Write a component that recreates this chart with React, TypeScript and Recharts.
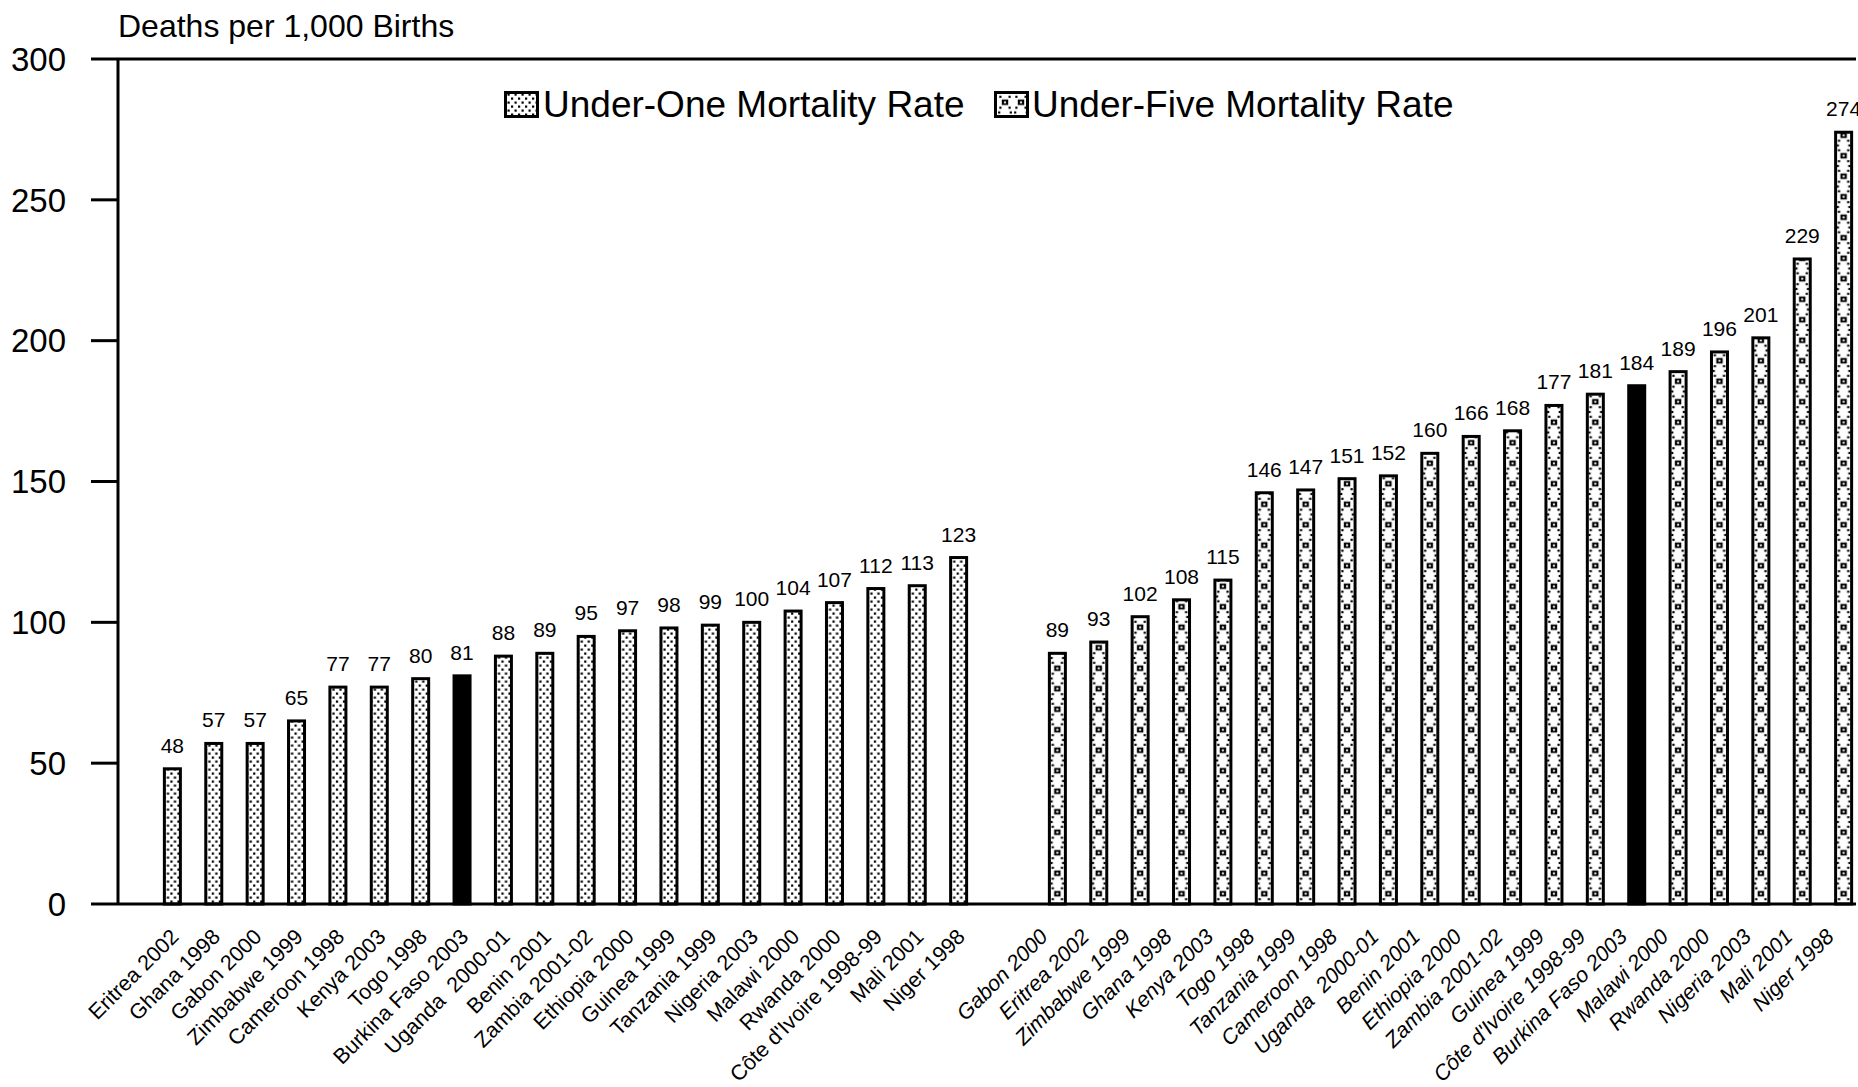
import React from 'react';
import { BarChart, Bar, XAxis, YAxis, ReferenceLine, LabelList, Legend, Label } from 'recharts';

const under1Labels = ['Eritrea 2002', 'Ghana 1998', 'Gabon 2000', 'Zimbabwe 1999', 'Cameroon 1998', 'Kenya 2003', 'Togo 1998', 'Burkina Faso 2003', 'Uganda  2000-01', 'Benin 2001', 'Zambia 2001-02', 'Ethiopia 2000', 'Guinea 1999', 'Tanzania 1999', 'Nigeria 2003', 'Malawi 2000', 'Rwanda 2000', "Côte d'Ivoire 1998-99", 'Mali 2001', 'Niger 1998'];
const under1Values = [48, 57, 57, 65, 77, 77, 80, 81, 88, 89, 95, 97, 98, 99, 100, 104, 107, 112, 113, 123];

const under5Labels = ['Gabon 2000', 'Eritrea 2002', 'Zimbabwe 1999', 'Ghana 1998', 'Kenya 2003', 'Togo 1998', 'Tanzania 1999', 'Cameroon 1998', 'Uganda  2000-01', 'Benin 2001', 'Ethiopia 2000', 'Zambia 2001-02', 'Guinea 1999', "Côte d'Ivoire 1998-99", 'Burkina Faso 2003', 'Malawi 2000', 'Rwanda 2000', 'Nigeria 2003', 'Mali 2001', 'Niger 1998'];
const under5Values = [89, 93, 102, 108, 115, 146, 147, 151, 152, 160, 166, 168, 177, 181, 184, 189, 196, 201, 229, 274];

const yTicks = [0, 50, 100, 150, 200, 250, 300];
const highlightName = 'Burkina Faso 2003';

const FONT = '"Liberation Sans", Arial, Helvetica, sans-serif';

type Row = { name: string; group: number; u1?: number; u5?: number };
const chartData: Row[] = [
  { name: '', group: 0 },
  ...under1Labels.map((n, i) => ({ name: n, group: 1, u1: under1Values[i] })),
  { name: '', group: 0 },
  ...under5Labels.map((n, i) => ({ name: n, group: 2, u5: under5Values[i] })),
];

function OnePattern({ id, x, y }: { id: string; x: number; y: number }) {
  return (
    <pattern id={id} patternUnits="userSpaceOnUse" x={x} y={y} width={7} height={8}>
      <rect width={7} height={8} fill="#fff" />
      <rect x={0.5} y={0.5} width={2.2} height={2.2} fill="#000" />
      <rect x={4} y={4.5} width={2.2} height={2.2} fill="#000" />
    </pattern>
  );
}

function FivePattern({ id, x, y }: { id: string; x: number; y: number }) {
  const dots = [
    [2.2, 0], [13.8, 0], [3.4, 4.8], [12.6, 4.8], [3.4, 15.7], [12.6, 15.7], [2.2, 20.5], [13.8, 20.5],
  ];
  return (
    <pattern id={id} patternUnits="userSpaceOnUse" x={x} y={y} width={16} height={20.5}>
      <rect width={16} height={20.5} fill="#fff" />
      <rect x={4.8} y={7.5} width={6.4} height={5.5} fill="#000" />
      <rect x={6.9} y={9.4} width={2.2} height={1.8} fill="#fff" />
      {dots.map(([cx, cy], i) => (
        <rect key={i} x={cx - 1.1} y={cy - 1.1} width={2.2} height={2.2} fill="#000" />
      ))}
    </pattern>
  );
}

function makeShape(kind: 'one' | 'five') {
  return (props: any) => {
    const { x, y, width, height, payload, index } = props;
    if (!height || height <= 0) return null;
    const hl = payload && payload.name === highlightName;
    const id = `pat-${kind}-${index}`;
    return (
      <g>
        {!hl && (
          <defs>
            {kind === 'one' ? (
              <OnePattern id={id} x={x + 2} y={y + height} />
            ) : (
              <FivePattern id={id} x={x} y={y + height} />
            )}
          </defs>
        )}
        <rect x={x} y={y} width={width} height={height} fill={hl ? '#000' : `url(#${id})`} stroke="#000" strokeWidth={3} />
      </g>
    );
  };
}

const OneShape = makeShape('one');
const FiveShape = makeShape('five');

function ValueLabel(props: any) {
  const { x, y, width, value } = props;
  if (value === undefined || value === null) return null;
  return (
    <text x={Number(x) + Number(width) / 2} y={Number(y) - 16} textAnchor="middle" fontSize={21} fontFamily={FONT} fill="#000">
      {value}
    </text>
  );
}

function XTick(props: any) {
  const { x, y, payload, index } = props;
  const row = chartData[index];
  if (!row || !row.name) return null;
  return (
    <text
      x={0}
      y={0}
      transform={`translate(${x},${y}) rotate(-45)`}
      textAnchor="end"
      fontSize={21.5}
      fontFamily={FONT}
      fontStyle={row.group === 2 ? 'italic' : 'normal'}
      fill="#000"
      style={{ whiteSpace: 'pre' }}
    >
      {payload.value}
    </text>
  );
}

function LegendContent() {
  return (
    <svg width={1858} height={140} style={{ display: 'block' }}>
      <defs>
        <OnePattern id="leg-one" x={507} y={93} />
        <FivePattern id="leg-five" x={997} y={92} />
      </defs>
      <rect x={505.5} y={92.5} width={32} height={24} fill="url(#leg-one)" stroke="#000" strokeWidth={3} />
      <text x={543} y={117} fontSize={37} fontFamily={FONT} fill="#000">Under-One Mortality Rate</text>
      <rect x={995.5} y={92.5} width={32} height={24} fill="url(#leg-five)" stroke="#000" strokeWidth={3} />
      <text x={1032} y={117} fontSize={37} fontFamily={FONT} fill="#000">Under-Five Mortality Rate</text>
    </svg>
  );
}

export default function App() {
  return (
    <div style={{ position: 'absolute', left: 0, top: 0, width: 1858, height: 1087, background: '#fff', overflow: 'hidden' }}>
      <BarChart
        width={1858}
        height={1087}
        data={chartData}
        margin={{ top: 59, right: 2, bottom: 0, left: 0 }}
        barGap={0}
        barSize={16}
      >
        <XAxis
          dataKey="name"
          interval={0}
          height={183}
          tickSize={0}
          tickMargin={34}
          tickLine={false}
          axisLine={{ stroke: '#000', strokeWidth: 3 }}
          tick={<XTick />}
        />
        <YAxis
          yAxisId="left"
          domain={[0, 300]}
          ticks={yTicks}
          width={118}
          tickSize={27}
          tickMargin={25}
          tickLine={{ stroke: '#000', strokeWidth: 3 }}
          axisLine={{ stroke: '#000', strokeWidth: 3 }}
          tick={{ fill: '#000', fontSize: 33, fontFamily: FONT }}
        >
          <Label
            content={() => (
              <text x={118} y={37} fontSize={32} fontFamily={FONT} fill="#000">
                Deaths per 1,000 Births
              </text>
            )}
          />
        </YAxis>
        <YAxis
          yAxisId="right"
          orientation="right"
          domain={[0, 300]}
          width={0}
          tick={false}
          tickLine={false}
          axisLine={{ stroke: '#000', strokeWidth: 3 }}
        />
        <ReferenceLine yAxisId="left" y={300} stroke="#000" strokeWidth={3} />
        <Legend
          layout="horizontal"
          verticalAlign="middle"
          align="center"
          wrapperStyle={{ top: 0, left: 0, width: 1858, height: 140 }}
          content={<LegendContent />}
        />
        <Bar yAxisId="left" dataKey="u1" name="Under-One Mortality Rate" isAnimationActive={false} shape={OneShape}>
          <LabelList dataKey="u1" content={<ValueLabel />} />
        </Bar>
        <Bar yAxisId="left" dataKey="u5" name="Under-Five Mortality Rate" isAnimationActive={false} shape={FiveShape}>
          <LabelList dataKey="u5" content={<ValueLabel />} />
        </Bar>
      </BarChart>
    </div>
  );
}
